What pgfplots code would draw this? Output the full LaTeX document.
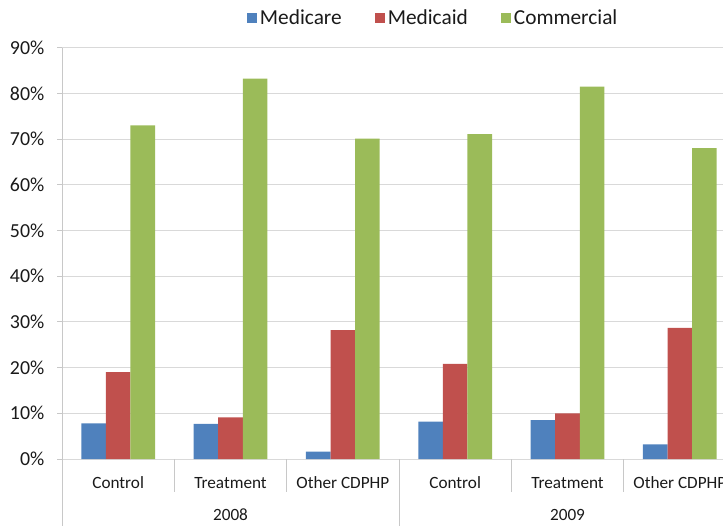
\documentclass[border=0pt]{standalone}
\usepackage{fontspec}
\setmainfont{Carlito}
\usepackage{pgfplots}
\pgfplotsset{compat=1.18}

\definecolor{medicare}{HTML}{4F81BD}
\definecolor{medicaid}{HTML}{C0504D}
\definecolor{commercial}{HTML}{9BBB59}
\definecolor{gridgray}{HTML}{D9D9D9}
\definecolor{axisgray}{HTML}{C8C8C8}
\definecolor{txt}{HTML}{1A1A1A}

\begin{document}
\begin{tikzpicture}
% page frame; the last category runs past the right edge
\path[use as bounding box, clip] (0,0) rectangle (542.25pt,393.75pt);
\begin{axis}[
  at={(46.5pt,49.5pt)}, anchor=south west,
  scale only axis, width=505.5pt, height=308.5pt,
  ybar=0pt, bar width=18.45pt,
  ymin=0, ymax=90, xmin=-0.5, xmax=5.5,
  ytick={0,10,...,90},
  yticklabel={\pgfmathprintnumber{\tick}\%},
  /pgf/number format/assume math mode=true,
  yticklabel style={font=\fontsize{14.9}{16}\selectfont, text=txt, xshift=-6pt},
  xtick={0,...,5},
  xticklabels={Control, Treatment, Other CDPHP, Control, Treatment, Other CDPHP},
  xticklabel style={font=\fontsize{12.9}{14}\selectfont, text=txt, anchor=center, yshift=-14pt},
  xtick style={draw=none},
  ytick pos=left, tick align=outside, major tick length=3.75pt,
  ytick style={draw=axisgray, line width=0.75pt},
  ymajorgrids, grid style={draw=gridgray, line width=0.75pt},
  axis line style={draw=none},
  clip=false,
  legend columns=3,
  legend style={at={(0.2686,1.072)}, anchor=west, draw=none, fill=none,
    font=\fontsize{16}{18}\selectfont, text=txt,
    /tikz/every even column/.append style={column sep=23pt}},
  legend image code/.code={\fill[#1,draw=none] (-4pt,-3.75pt) rectangle (3.5pt,3.75pt);},
]
\addplot[fill=medicare, draw=none] coordinates {(0,7.8) (1,7.7) (2,1.6) (3,8.2) (4,8.5) (5,3.2)};
\addplot[fill=medicaid, draw=none] coordinates {(0,19.0) (1,9.1) (2,28.2) (3,20.8) (4,10.0) (5,28.7)};
\addplot[fill=commercial, draw=none] coordinates {(0,73.0) (1,83.2) (2,70.1) (3,71.1) (4,81.5) (5,68.0)};
\legend{Medicare, Medicaid, Commercial}

% category axis: baseline, dividers and year groups
\draw[axisgray, line width=0.75pt] (axis cs:-0.5,90) -- ([yshift=-60pt]axis cs:-0.5,0);
\draw[axisgray, line width=0.75pt] (axis cs:2.5,0) -- ([yshift=-60pt]axis cs:2.5,0);
\draw[axisgray, line width=0.75pt] (axis cs:0.5,0) -- ([yshift=-24.75pt]axis cs:0.5,0);
\draw[axisgray, line width=0.75pt] (axis cs:1.5,0) -- ([yshift=-24.75pt]axis cs:1.5,0);
\draw[axisgray, line width=0.75pt] (axis cs:3.5,0) -- ([yshift=-24.75pt]axis cs:3.5,0);
\draw[axisgray, line width=0.75pt] (axis cs:4.5,0) -- ([yshift=-24.75pt]axis cs:4.5,0);
\node[font=\fontsize{12.9}{14}\selectfont, text=txt, inner sep=1pt] at ([yshift=-42pt]axis cs:1,0) {2008};
\node[font=\fontsize{12.9}{14}\selectfont, text=txt, inner sep=1pt] at ([yshift=-42pt]axis cs:4,0) {2009};
\end{axis}
\end{tikzpicture}
\end{document}
